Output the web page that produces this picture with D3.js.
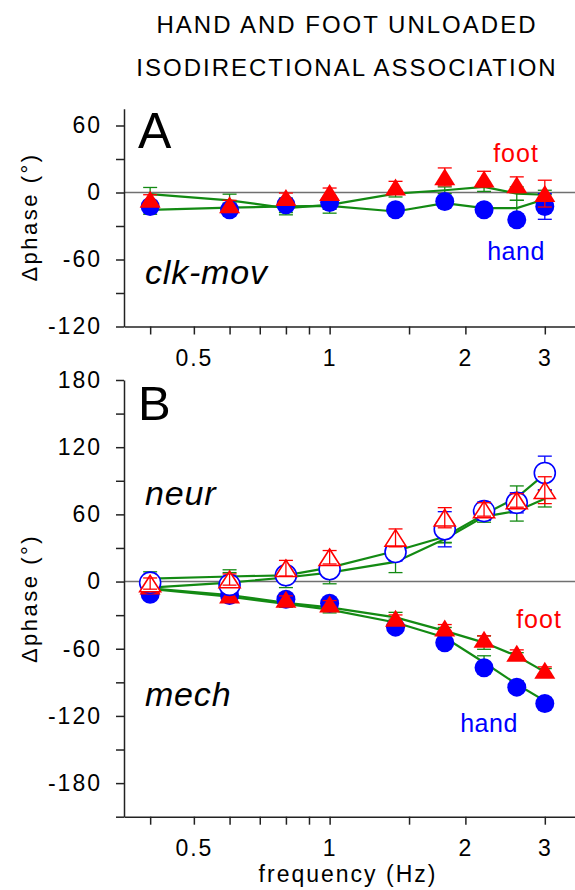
<!DOCTYPE html>
<html>
<head>
<meta charset="utf-8">
<script src="https://cdn.jsdelivr.net/npm/d3@7"></script>
<style>
  body { margin: 0; background: #fff; }
  text { font-family: "Liberation Sans", Arial, sans-serif; }
</style>
</head>
<body>
<svg id="chart" width="575" height="890"></svg>
<script>
// frequencies (Hz), same for every series
const freqs = [0.4, 0.6, 0.8, 1.0, 1.4, 1.8, 2.2, 2.6, 3.0];

// panel A - clk-mov
const clkHand = [-12.5, -15.5, -11, -9, -15.5, -8, -15.5, -24.5, -12.5];
const clkHandErr = [4, 4, 4, 4, 4, 4, 4, 5, 11.5];
const clkFoot = [-6, -11, -4.5, 0, 5, 14, 12, 7, -1];
const clkFootErr = [4, 4, 4, 4, 5, 8, 7, 7, 12];
const clkGreenA = [-1.5, -7, -14, -11, -1, 2, 5, -1, -2];
const clkGreenAErr = [6, 5.5, 4, 4, 3, 3, 4, 6, 4];
const clkGreenB = [-15.5, -13.5, -12.5, -12, -17, -9.5, -14, -14, -6];
const clkGreenBErr = [4, 4, 7.5, 6.5, 3, 3, 4, 7, 4];

// panel B - neur (open markers)
const neurHand = [-1, -3, 5.6, 11, 26.4, 46.7, 62.9, 70.3, 97];
const neurHandErr = [5, 5, 5, 6, 8, 15.7, 8, 9, 15];
const neurFoot = [-1.8, 1.8, 11.9, 21.7, 39, 57, 64.4, 72.4, 81.6];
const neurFootErr = [5, 5, 7, 6, 8, 9, 6, 6, 12];
const neurGreenA = [2.7, 4.5, 5.6, 12.5, 27.3, 40, 60, 75, 96];
const neurGreenAErr = [6, 6, 4, 4, 4, 5, 5, 10.4, 5];
const neurGreenB = [-5.4, -1, 3.6, 8, 17.5, 38, 58, 63, 74];
const neurGreenBErr = [4, 9, 9, 10, 9.5, 3.5, 5, 9, 7.4];

// panel B - mech (filled markers)
const mechHand = [-11.3, -12.5, -15.8, -19.4, -40.7, -54.7, -77, -94.3, -108.9];
const mechHandErr = [3, 3, 3, 3, 3, 3, 3, 3, 3];
const mechFoot = [-4, -12, -15.8, -20, -32.8, -41.4, -51.5, -64, -79.2];
const mechFootErr = [3, 3, 3, 3, 3, 3, 3, 3, 3];
const mechGreenA = [-6, -12, -19, -23, -32, -44, -54.5, -66.5, -80.7];
const mechGreenAErr = [3, 3, 3, 3, 4.5, 3, 6, 3, 3];
const mechGreenB = [-6.5, -13.5, -20, -25, -36.6, -50, -72.3, -91.7, -106.6];
const mechGreenBErr = [3, 3, 3, 3, 3, 3, 6, 3, 3];

// axis ticks
const xTicks = [0.4, 0.5, 0.6, 0.7, 0.8, 0.9, 1, 1.5, 2, 3];
const xLabels = [0.5, 1, 2, 3];
const yTicksA = [-120, -90, -60, -30, 0, 30, 60];
const yTicksB = [-210, -180, -150, -120, -90, -60, -30, 0, 30, 60, 90, 120, 150, 180];

const BLUE = "#0000ff", RED = "#ff0000", GREEN = "#138a13";

const svg = d3.select("#chart");

const x = d3.scaleLog().domain([0.35, 3.5]).range([124, 575]);
const yA = d3.scaleLinear().domain([-120, 75]).range([326.5, 108.75]);
const yB = d3.scaleLinear().domain([-210, 180]).range([816.7, 380]);

// title
svg.append("text").attr("x", 347).attr("y", 33).attr("text-anchor", "middle")
  .style("font-size", "24px").style("letter-spacing", "2px")
  .text("HAND AND FOOT UNLOADED");
svg.append("text").attr("x", 347).attr("y", 76).attr("text-anchor", "middle")
  .style("font-size", "24px").style("letter-spacing", "2px")
  .text("ISODIRECTIONAL ASSOCIATION");

function makeAxes(y, yTicks, labelY) {
  const g = svg.append("g");

  // zero line
  g.append("line")
    .attr("x1", x.range()[0]).attr("x2", x.range()[1])
    .attr("y1", y(0)).attr("y2", y(0))
    .attr("stroke", "#707070").attr("stroke-width", 1.5);

  const yAxis = d3.axisLeft(y)
    .tickValues(yTicks)
    .tickSize(8).tickSizeOuter(0).tickPadding(14)
    .tickFormat(d => d % 60 === 0 ? d : "");
  const gy = g.append("g").attr("transform", `translate(${x.range()[0]},0)`).call(yAxis);

  const xAxis = d3.axisBottom(x)
    .tickValues(xTicks)
    .tickSize(8).tickSizeOuter(0).tickPadding(15)
    .tickFormat(d => xLabels.includes(d) ? d : "");
  const gx = g.append("g").attr("transform", `translate(0,${y.range()[0]})`).call(xAxis);

  [gx, gy].forEach(a => {
    a.selectAll("path, line").attr("stroke", "#222").attr("stroke-width", 1.5);
    a.selectAll("text").style("font-size", "23px").style("letter-spacing", "2px")
      .attr("fill", "#000").style("font-family", "'Liberation Sans', Arial, sans-serif");
  });

  // y label
  svg.append("text")
    .attr("transform", `translate(37,${labelY}) rotate(-90)`)
    .attr("text-anchor", "middle")
    .style("font-size", "22px").style("letter-spacing", "2.5px")
    .text("\u0394phase (\u00b0)");
}

function rows(vals, errs) {
  return freqs.map((f, i) => ({ f: f, v: vals[i], e: errs[i] }));
}

function greenLine(y, vals) {
  const line = d3.line().x((d, i) => x(freqs[i])).y(d => y(d));
  svg.append("path").datum(vals)
    .attr("d", line)
    .attr("fill", "none").attr("stroke", GREEN).attr("stroke-width", 2.2);
}

function errBars(y, vals, errs, color) {
  const g = svg.append("g").attr("stroke", color).attr("stroke-width", 1.3);
  const data = rows(vals, errs);
  const cap = 7;
  g.selectAll("line.v").data(data).enter().append("line")
    .attr("x1", d => x(d.f)).attr("x2", d => x(d.f))
    .attr("y1", d => y(d.v - d.e)).attr("y2", d => y(d.v + d.e));
  g.selectAll("line.t").data(data).enter().append("line")
    .attr("x1", d => x(d.f) - cap).attr("x2", d => x(d.f) + cap)
    .attr("y1", d => y(d.v + d.e)).attr("y2", d => y(d.v + d.e));
  g.selectAll("line.b").data(data).enter().append("line")
    .attr("x1", d => x(d.f) - cap).attr("x2", d => x(d.f) + cap)
    .attr("y1", d => y(d.v - d.e)).attr("y2", d => y(d.v - d.e));
}

function circles(y, vals, filled) {
  svg.append("g").selectAll("circle")
    .data(vals).enter().append("circle")
    .attr("cx", (d, i) => x(freqs[i]))
    .attr("cy", d => y(d))
    .attr("r", filled ? 9.5 : 10.5)
    .attr("fill", filled ? BLUE : "#fff")
    .attr("stroke", filled ? "none" : BLUE)
    .attr("stroke-width", 1.6);
}

function triangles(y, vals, filled) {
  const w = 21, h = filled ? 17 : 16.5;
  svg.append("g").selectAll("path")
    .data(vals).enter().append("path")
    .attr("d", `M0,${-h / 2}L${w / 2},${h / 2}L${-w / 2},${h / 2}Z`)
    .attr("transform", (d, i) => `translate(${x(freqs[i])},${y(d)})`)
    .attr("fill", filled ? RED : "#fff")
    .attr("stroke", filled ? "none" : RED)
    .attr("stroke-width", 1.6);
}

function label(txt, px, py, opts) {
  const t = svg.append("text").attr("x", px).attr("y", py).text(txt);
  Object.entries(opts).forEach(([k, v]) => t.style(k, v));
  return t;
}

// ---- panel A ----
makeAxes(yA, yTicksA, 217);
greenLine(yA, clkGreenA);
greenLine(yA, clkGreenB);
errBars(yA, clkGreenA, clkGreenAErr, GREEN);
errBars(yA, clkGreenB, clkGreenBErr, GREEN);
errBars(yA, clkHand, clkHandErr, BLUE);
circles(yA, clkHand, true);
triangles(yA, clkFoot, true);
errBars(yA, clkFoot, clkFootErr, RED);

label("A", 138, 148.3, { "font-size": "50px" });
label("foot", 516, 161.7, { "font-size": "25px", "fill": RED, "text-anchor": "middle", "letter-spacing": "1px" });
label("hand", 516, 260, { "font-size": "25px", "fill": BLUE, "text-anchor": "middle", "letter-spacing": "0.5px" });
label("clk-mov", 145, 284.3, { "font-size": "34px", "font-style": "italic", "letter-spacing": "0.8px" });

// ---- panel B ----
makeAxes(yB, yTicksB, 598.5);
[neurGreenA, neurGreenB, mechGreenA, mechGreenB].forEach(v => greenLine(yB, v));
errBars(yB, neurGreenA, neurGreenAErr, GREEN);
errBars(yB, neurGreenB, neurGreenBErr, GREEN);
errBars(yB, mechGreenA, mechGreenAErr, GREEN);
errBars(yB, mechGreenB, mechGreenBErr, GREEN);

errBars(yB, mechHand, mechHandErr, BLUE);
circles(yB, mechHand, true);
triangles(yB, mechFoot, true);
errBars(yB, mechFoot, mechFootErr, RED);

errBars(yB, neurHand, neurHandErr, BLUE);
circles(yB, neurHand, false);
triangles(yB, neurFoot, false);
errBars(yB, neurFoot, neurFootErr, RED);

label("B", 138, 420, { "font-size": "49px" });
label("neur", 145, 505, { "font-size": "34px", "font-style": "italic", "letter-spacing": "0.8px" });
label("mech", 145, 705.7, { "font-size": "34px", "font-style": "italic", "letter-spacing": "0.8px" });
label("foot", 539, 627.7, { "font-size": "25px", "fill": RED, "text-anchor": "middle", "letter-spacing": "1px" });
label("hand", 489, 731.7, { "font-size": "25px", "fill": BLUE, "text-anchor": "middle", "letter-spacing": "0.5px" });

// x axis title
label("frequency (Hz)", 348, 882, { "font-size": "23px", "text-anchor": "middle", "letter-spacing": "2px" });
</script>
</body>
</html>
